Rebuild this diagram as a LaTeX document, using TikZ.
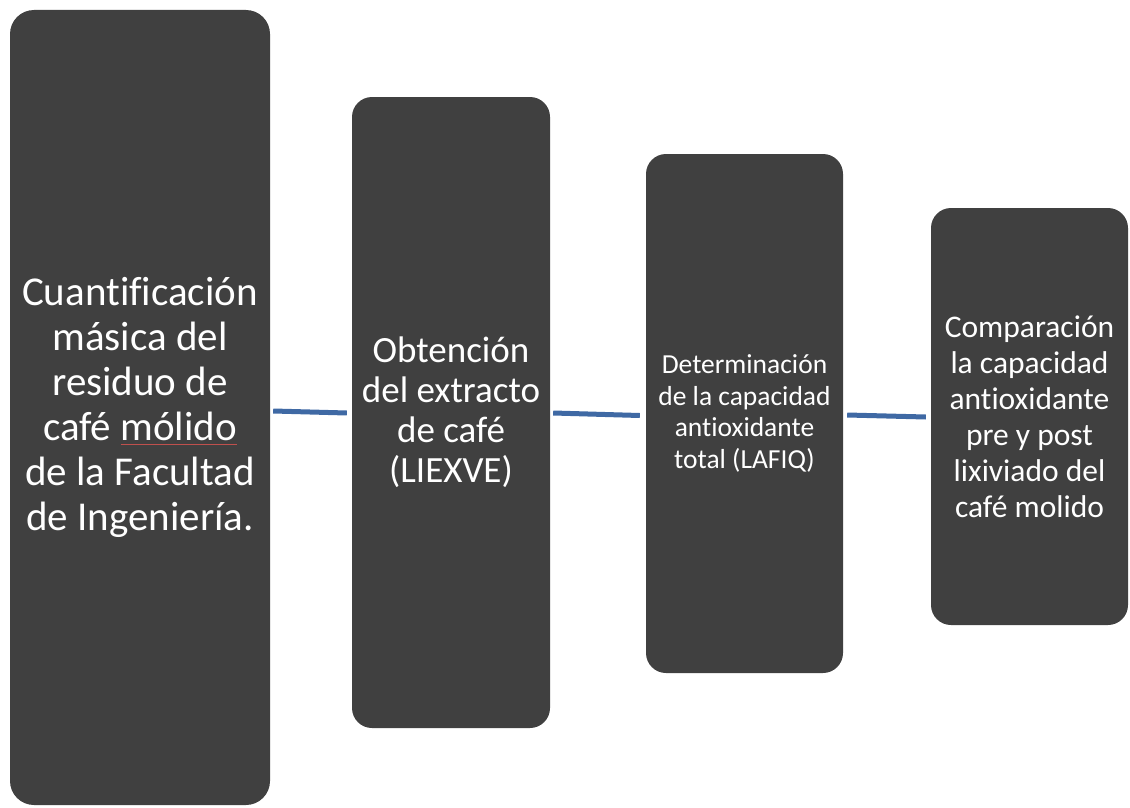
\documentclass[tikz,border=0pt]{standalone}
\usepackage{fontspec}
\setmainfont{Carlito}[Ligatures={NoCommon}]
\usetikzlibrary{calc}
\definecolor{boxfill}{HTML}{404040}
\definecolor{linkblue}{HTML}{3F69A4}
\definecolor{spellred}{HTML}{C0504D}
\newcommand\spellul[1]{{\setbox0\hbox{#1}\rlap{\textcolor{spellred}{\rule[-4pt]{\wd0}{1pt}}}\box0}}
\tikzset{
  stagebox/.style={fill=boxfill, draw=none, text=white, align=center, inner sep=0pt},
  link/.style={draw=linkblue, line width=5pt}
}
\begin{document}
\begin{tikzpicture}[x=1pt,y=-1pt]
\useasboundingbox (0,0) rectangle (1130,808);
\node[stagebox, rounded corners=24pt, minimum width=260pt, minimum height=795pt,
  font=\fontsize{41}{45}\selectfont] (b1) at (140,407.5)
  {Cuantificación\\másica del\\residuo de\\café \spellul{mólido}\\de la Facultad\\de Ingeniería.};
\node[stagebox, rounded corners=20pt, minimum width=198pt, minimum height=631pt,
  font=\fontsize{37}{40}\selectfont] (b2) at (451,412.5)
  {Obtención\\del extracto\\de café\\(LIEXVE)};
\node[stagebox, rounded corners=20pt, minimum width=197pt, minimum height=519pt,
  font=\fontsize{27.5}{31.5}\selectfont] (b3) at (744.5,413.5)
  {Determinación\\de la capacidad\\antioxidante\\total (LAFIQ)};
\node[stagebox, rounded corners=20pt, minimum width=197pt, minimum height=417pt,
  font=\fontsize{31.5}{36}\selectfont] (b4) at (1029.5,416.5)
  {Comparación\\la capacidad\\antioxidante\\pre y post\\lixiviado del\\café molido};
\draw[link] ($(b1.east)+(3,3.5)$) -- ($(b2.west)+(-5,0.5)$);
\draw[link] ($(b2.east)+(3,0.5)$) -- ($(b3.west)+(-6,2)$);
\draw[link] ($(b3.east)+(4,1.5)$) -- ($(b4.west)+(-5,0.5)$);
\end{tikzpicture}
\end{document}
